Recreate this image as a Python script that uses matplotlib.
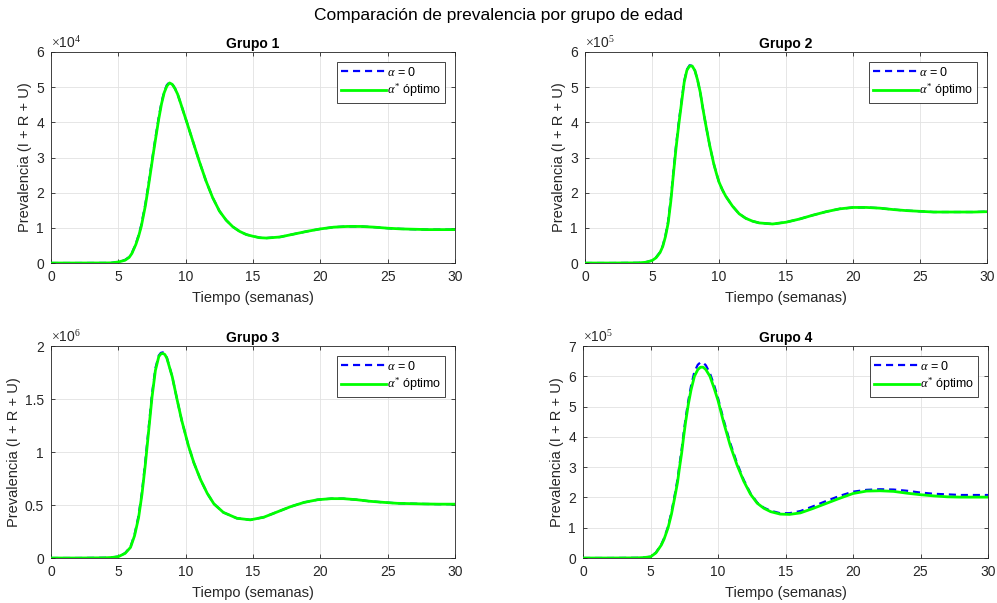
import numpy as np
import matplotlib.pyplot as plt
from matplotlib.ticker import FuncFormatter

plt.rcParams['font.family'] = ['Liberation Sans', 'DejaVu Sans']
plt.rcParams['mathtext.fontset'] = 'custom'
plt.rcParams['mathtext.rm'] = 'Liberation Serif'
plt.rcParams['mathtext.it'] = 'Liberation Serif:italic'

# Prevalence (I + R + U) per age group, in units of 10^exp
# Grupo 1 (x 10^4)
t_g1 = [0, 2, 4, 4.5, 5, 5.5, 5.8, 6.0, 6.3, 6.5, 6.7, 7.0, 7.2, 7.4, 7.6, 7.8,
        8.0, 8.2, 8.4, 8.6, 8.8, 9.0, 9.2, 9.4, 9.6, 10.0, 10.5, 11, 11.5, 12,
        12.5, 13, 13.5, 14, 14.5, 15, 15.5, 16, 17, 18, 19, 20, 21, 22, 23, 24,
        25, 26, 27, 28, 29, 30]
base_g1 = [0, 0, 0.002, 0.006, 0.03, 0.09, 0.17, 0.28, 0.55, 0.79, 1.08, 1.67,
           2.15, 2.66, 3.18, 3.67, 4.15, 4.56, 4.87, 5.06, 5.14, 5.09, 4.97,
           4.8, 4.57, 4.1, 3.5, 2.9, 2.34, 1.86, 1.48, 1.22, 1.03, 0.9, 0.81,
           0.76, 0.72, 0.71, 0.74, 0.82, 0.9, 0.97, 1.02, 1.04, 1.04, 1.02,
           0.99, 0.97, 0.96, 0.95, 0.95, 0.95]
opt_g1 = [0, 0, 0.002, 0.005, 0.03, 0.08, 0.16, 0.27, 0.53, 0.76, 1.04, 1.62,
          2.1, 2.61, 3.13, 3.62, 4.1, 4.52, 4.84, 5.03, 5.12, 5.08, 4.96, 4.8,
          4.57, 4.1, 3.5, 2.9, 2.34, 1.86, 1.48, 1.22, 1.03, 0.9, 0.81, 0.76,
          0.72, 0.71, 0.74, 0.82, 0.9, 0.97, 1.02, 1.04, 1.04, 1.02, 0.99,
          0.97, 0.96, 0.95, 0.95, 0.95]

# Grupo 2 (x 10^5)
t_g2 = [0, 2, 4, 4.5, 5, 5.3, 5.6, 5.8, 6.0, 6.2, 6.4, 6.6, 6.8, 7.0, 7.2, 7.4,
        7.6, 7.8, 8.0, 8.2, 8.4, 8.6, 8.8, 9.0, 9.3, 9.6, 9.8, 10, 10.25, 10.5,
        11, 11.5, 12, 12.5, 13, 14, 15, 16, 17, 18, 19, 20, 21, 22, 23, 24, 25,
        26, 27, 28, 29, 30]
base_g2 = [0, 0, 0.005, 0.02, 0.07, 0.16, 0.31, 0.49, 0.78, 1.18, 1.82, 2.62,
           3.37, 4.02, 4.6, 5.17, 5.5, 5.62, 5.61, 5.47, 5.2, 4.84, 4.38,
           3.95, 3.35, 2.83, 2.55, 2.3, 2.08, 1.9, 1.62, 1.4, 1.27, 1.19,
           1.14, 1.11, 1.16, 1.25, 1.36, 1.46, 1.54, 1.58, 1.58, 1.56, 1.52,
           1.49, 1.47, 1.45, 1.45, 1.45, 1.45, 1.46]
opt_g2 = [0, 0, 0.005, 0.02, 0.07, 0.15, 0.3, 0.47, 0.75, 1.13, 1.75, 2.55,
          3.3, 3.95, 4.55, 5.14, 5.48, 5.6, 5.6, 5.47, 5.2, 4.85, 4.38, 3.95,
          3.35, 2.83, 2.55, 2.3, 2.08, 1.9, 1.62, 1.4, 1.27, 1.19, 1.14, 1.11,
          1.16, 1.25, 1.36, 1.46, 1.54, 1.58, 1.58, 1.56, 1.52, 1.49, 1.47,
          1.45, 1.45, 1.45, 1.45, 1.46]

# Grupo 3 (x 10^6)
t_g3 = [0, 2, 4, 4.5, 5, 5.5, 5.9, 6.2, 6.5, 6.75, 7.0, 7.25, 7.5, 7.75, 8.0,
        8.15, 8.3, 8.45, 8.6, 9.0, 9.35, 9.7, 10.2, 10.6, 11.1, 11.6, 12.1,
        12.8, 13.8, 14.8, 15.8, 16.8, 17.8, 18.8, 19.8, 20.8, 21.7, 22.7, 23.7,
        24.7, 25.7, 26.7, 27.7, 28.8, 30]
base_g3 = [0, 0, 0.002, 0.005, 0.014, 0.046, 0.105, 0.22, 0.4, 0.62, 0.91,
           1.23, 1.55, 1.79, 1.91, 1.935, 1.94, 1.925, 1.89, 1.71, 1.5, 1.3,
           1.06, 0.9, 0.74, 0.61, 0.51, 0.43, 0.375, 0.36, 0.385, 0.435, 0.485,
           0.525, 0.55, 0.56, 0.56, 0.55, 0.535, 0.525, 0.516, 0.513, 0.51,
           0.508, 0.508]
opt_g3 = [0, 0, 0.002, 0.005, 0.013, 0.044, 0.1, 0.21, 0.38, 0.6, 0.88, 1.2,
          1.52, 1.77, 1.9, 1.925, 1.93, 1.92, 1.885, 1.71, 1.5, 1.3, 1.06, 0.9,
          0.74, 0.61, 0.51, 0.43, 0.375, 0.36, 0.385, 0.435, 0.485, 0.525,
          0.55, 0.56, 0.56, 0.55, 0.535, 0.525, 0.516, 0.513, 0.51, 0.508,
          0.508]

# Grupo 4 (x 10^5)
t_g4 = [0, 2, 4, 4.5, 5, 5.4, 5.8, 6.0, 6.3, 6.55, 6.8, 7.0, 7.15, 7.3, 7.45,
        7.6, 7.8, 8.0, 8.25, 8.5, 8.7, 8.9, 9.1, 9.4, 9.7, 10.0, 10.4, 10.9,
        11.4, 11.9, 12.4, 12.9, 13.4, 13.9, 14.6, 15.3, 16.1, 17, 18, 19, 20,
        21, 22, 23, 24, 25, 26, 27, 28, 29, 30]
base_g4 = [0, 0, 0.005, 0.016, 0.043, 0.18, 0.45, 0.65, 1.04, 1.52, 2.1, 2.6,
           3.1, 3.57, 4.12, 4.62, 5.2, 5.68, 6.15, 6.38, 6.46, 6.45, 6.36,
           6.1, 5.72, 5.28, 4.58, 3.8, 3.14, 2.58, 2.14, 1.83, 1.66, 1.56,
           1.48, 1.48, 1.55, 1.7, 1.88, 2.05, 2.19, 2.25, 2.27, 2.26, 2.22,
           2.16, 2.12, 2.1, 2.08, 2.08, 2.08]
opt_g4 = [0, 0, 0.005, 0.015, 0.04, 0.17, 0.43, 0.62, 1.0, 1.45, 2.02, 2.5,
          3.0, 3.45, 4.0, 4.5, 5.08, 5.55, 6.0, 6.22, 6.3, 6.3, 6.22, 6.0,
          5.62, 5.2, 4.5, 3.72, 3.08, 2.54, 2.11, 1.81, 1.64, 1.53, 1.45, 1.44,
          1.49, 1.63, 1.8, 1.97, 2.13, 2.21, 2.22, 2.2, 2.14, 2.09, 2.05, 2.02,
          2.01, 2.01, 2.01]

titles = ['Grupo 1', 'Grupo 2', 'Grupo 3', 'Grupo 4']
exponents = [4, 5, 6, 5]
ymax = [6, 6, 2, 7]
ysteps = [1, 1, 0.5, 1]
times = [t_g1, t_g2, t_g3, t_g4]
base = [base_g1, base_g2, base_g3, base_g4]
opt = [opt_g1, opt_g2, opt_g3, opt_g4]

# axes rectangles in figure fractions
rects = [
    [0.0512, 0.5638, 0.4052, 0.3500],
    [0.5868, 0.5638, 0.4032, 0.3500],
    [0.0512, 0.0746, 0.4052, 0.3516],
    [0.5848, 0.0746, 0.4062, 0.3516],
]

axis_color = '#262626'

fig = plt.figure(figsize=(9.97, 6.03), dpi=100)
fig.text(0.5, 0.975, 'Comparación de prevalencia por grupo de edad',
         ha='center', va='center', fontsize=12.5, color='black')

for i in range(4):
    ax = fig.add_axes(rects[i])
    scale = 10.0 ** exponents[i]
    t = np.array(times[i])
    y0 = np.array(base[i]) * scale
    y1 = np.array(opt[i]) * scale

    ax.plot(t, y0, color='blue', linestyle=(0, (3.2, 2.2)), linewidth=1.6,
            label=r'$\alpha$ = 0', zorder=3)
    ax.plot(t, y1, color='#00ff00', linewidth=2.0, solid_joinstyle='round',
            label=r'$\alpha^{*}$ óptimo', zorder=4)

    ax.set_xlim(0, 30)
    ax.set_ylim(0, ymax[i] * scale)
    ax.set_xticks(np.arange(0, 31, 5))
    ax.set_yticks(np.arange(0, ymax[i] + ysteps[i] / 2, ysteps[i]) * scale)
    ax.yaxis.set_major_formatter(FuncFormatter(lambda v, p, s=scale: f'{v / s:g}'))

    ax.grid(True, color='#e2e2e2', linewidth=0.6)
    ax.set_axisbelow(True)
    for sp in ax.spines.values():
        sp.set_color(axis_color)
        sp.set_linewidth(0.6)
    ax.tick_params(direction='in', top=True, right=True, length=3, width=0.6,
                   colors=axis_color, labelsize=10, pad=5)

    ax.set_title(titles[i], fontsize=10, fontweight='bold', pad=3)
    ax.set_xlabel('Tiempo (semanas)', fontsize=10.5, color=axis_color, labelpad=5)
    ax.set_ylabel('Prevalencia (I + R + U)', fontsize=10.5, color=axis_color,
                  labelpad=3)
    ax.text(0.0, 1.005, r'$\times$10$^{%d}$' % exponents[i], transform=ax.transAxes,
            ha='left', va='bottom', fontsize=10, color=axis_color)

    leg = ax.legend(loc='upper right', fontsize=9, handlelength=3.6,
                    handletextpad=0.1, borderpad=0.3, labelspacing=0.25,
                    fancybox=False, framealpha=1, borderaxespad=0.8)
    leg.get_frame().set_edgecolor(axis_color)
    leg.get_frame().set_linewidth(0.6)

fig.savefig('out.png', dpi=100)
